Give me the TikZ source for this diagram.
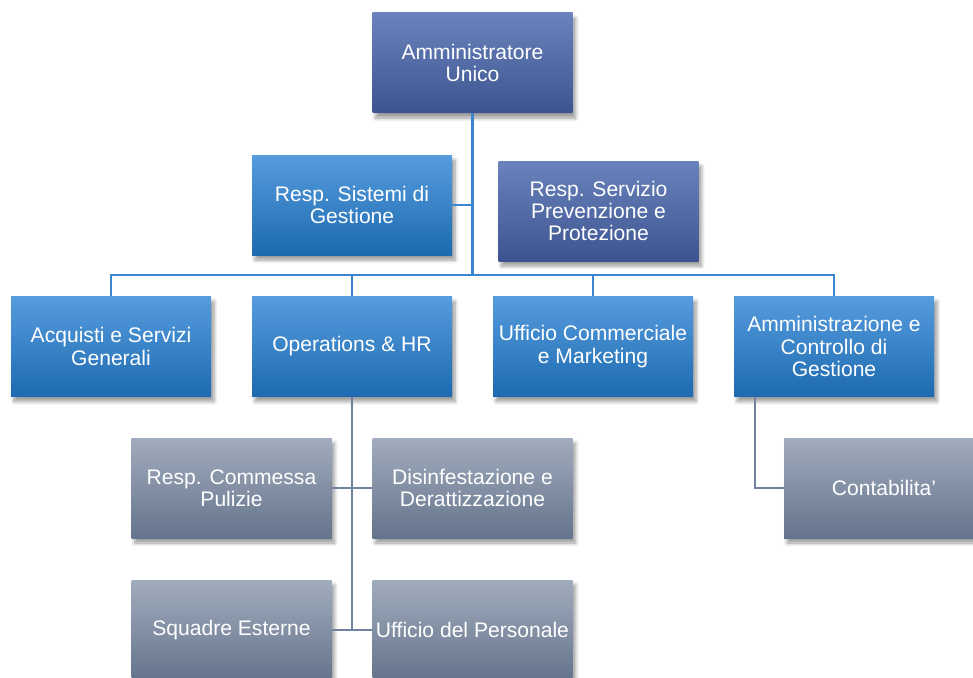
\documentclass[tikz,border=0pt]{standalone}
\usepackage{fontspec}
\setmainfont{Liberation Sans}
\usetikzlibrary{shadows.blur}

\definecolor{topA}{HTML}{6A83BC}
\definecolor{botA}{HTML}{3D5490}
\definecolor{topB}{HTML}{569CDE}
\definecolor{botB}{HTML}{1D6AB0}
\definecolor{topG}{HTML}{A1ACBD}
\definecolor{botG}{HTML}{65748C}
\definecolor{lineB}{HTML}{3A86D0}
\definecolor{lineG}{HTML}{7080A0}

\tikzset{
    box/.style={minimum width=4cm, minimum height=2cm, inner xsep=0pt, align=center,
        text=white, font=\fontsize{12}{12.7}\selectfont,
        blur shadow={shadow xshift=0.06cm, shadow yshift=-0.1cm, shadow blur steps=6, shadow opacity=40}},
    headbox/.style={box, top color=topA, bottom color=botA},
    bluebox/.style={box, top color=topB, bottom color=botB},
    greybox/.style={box, top color=topG, bottom color=botG},
    bluelink/.style={draw=lineB, line width=1.4pt},
    greylink/.style={draw=lineG, line width=1.1pt}
}

\begin{document}
\begin{tikzpicture}
        \useasboundingbox (0, 0) rectangle (19.46, -13.54);

        \node[headbox] (au) at (9.45, -1.26) {Amministratore\\Unico};
        \node[bluebox] (rsg) at (7.04, -4.10) {Resp. Sistemi di\\Gestione};
        \node[headbox] (rspp) at (11.97, -4.22) {Resp. Servizio\\Prevenzione e\\Protezione};

        \node[bluebox] (asg) at (2.22, -6.93) {Acquisti e Servizi\\Generali};
        \node[bluebox] (ohr) at (7.04, -6.93) {Operations \& HR};
        \node[bluebox] (ucm) at (11.86, -6.93) {Ufficio Commerciale\\e Marketing};
        \node[bluebox] (acg) at (16.68, -6.93) {Amministrazione e\\Controllo di\\Gestione};

        \node[greybox] (rcp) at (4.63, -9.76) {Resp. Commessa\\Pulizie};
        \node[greybox] (dd) at (9.45, -9.76) {Disinfestazione e\\Derattizzazione};
        \node[greybox] (se) at (4.63, -12.6) {Squadre Esterne};
        \node[greybox] (up) at (9.45, -12.6) {Ufficio del Personale};
        \node[greybox] (cont) at (17.68, -9.76) {Contabilita’};

        \coordinate (bus) at (9.45, -5.5);

        \draw[bluelink] (au.south) -- (bus);
        \draw[bluelink] (rsg.east) -- (rsg.east -| au.south);
        \draw[bluelink] (bus) -| (asg.north);
        \draw[bluelink] (bus) -| (ohr.north);
        \draw[bluelink] (bus) -| (ucm.north);
        \draw[bluelink] (bus) -| (acg.north);

        \draw[greylink] (ohr.south) -- (ohr.south |- se.east);
        \draw[greylink] (rcp.east) -- (dd.west);
        \draw[greylink] (se.east) -- (up.west);
        \draw[greylink] ([xshift=0.42cm]acg.south west) |- (cont.west);
    \end{tikzpicture}
\end{document}
